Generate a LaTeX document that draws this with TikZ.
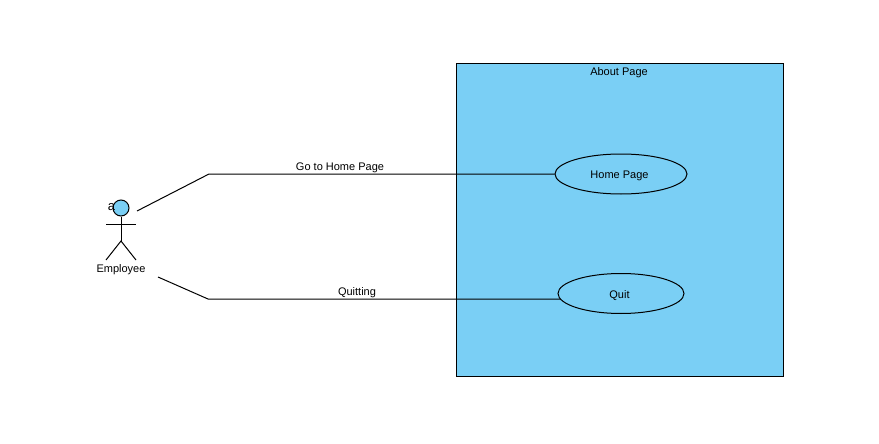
\documentclass[tikz,border=0pt]{standalone}
\usepackage{fontspec}
\setmainfont{Liberation Sans}
\usetikzlibrary{positioning, shapes.geometric}
\definecolor{sysblue}{RGB}{122,207,245}

\begin{document}
\begin{tikzpicture}[
  x=1pt, y=-1pt,
  font=\fontsize{11}{13}\selectfont,
  system/.style={draw, fill=sysblue, minimum width=326.5pt, minimum height=312.5pt, inner sep=0pt, line width=1pt},
  usecase/.style={draw, ellipse, minimum height=40pt, inner sep=0pt, line width=1pt, text height=12pt, text depth=2.3pt, execute at end node=\kern3pt},
  conn/.style={line width=1pt},
  lbl/.style={inner sep=0pt}
]
\useasboundingbox (0,0) rectangle (879,444);

\node[system] (about) at (620,220) {};
\node[lbl] (aboutlbl) at (619,73) {About Page};

\node[usecase, minimum width=132pt] (home) at (621,174) {Home Page};
\node[usecase, minimum width=126pt] (quit) at (621,293.5) {Quit};

% actor
\node[draw, circle, fill=sysblue, minimum size=16pt, inner sep=0pt, line width=1pt] (head) at (121,208) {};
\node[lbl, font=\fontsize{13}{15}\selectfont] (alias) at (111.5,207.5) {a};
\coordinate (hip) at (121,241);
\coordinate (lefthand) at (106,224);
\coordinate (righthand) at (136,224);
\coordinate (leftfoot) at (106,260);
\coordinate (rightfoot) at (136,260);
\draw[conn] (head.south) -- (hip);
\draw[conn] (lefthand) -- (righthand);
\draw[conn] (leftfoot) -- (hip) -- (rightfoot);
\node[lbl] (employee) at (121,270) {Employee};

% connectors
\coordinate (start1) at (137,211);
\coordinate (bend1) at (209,174);
\coordinate (start2) at (158,277);
\coordinate (bend2) at (208,299);
\coordinate (end2) at (560,299);
\draw[conn] (start1) -- (bend1) -- (home.west);
\draw[conn] (start2) -- (bend2) -- (end2);
\node[lbl] (golbl) at (340,168) {Go to Home Page};
\node[lbl] (quitlbl) at (357,293) {Quitting};
\end{tikzpicture}
\end{document}
